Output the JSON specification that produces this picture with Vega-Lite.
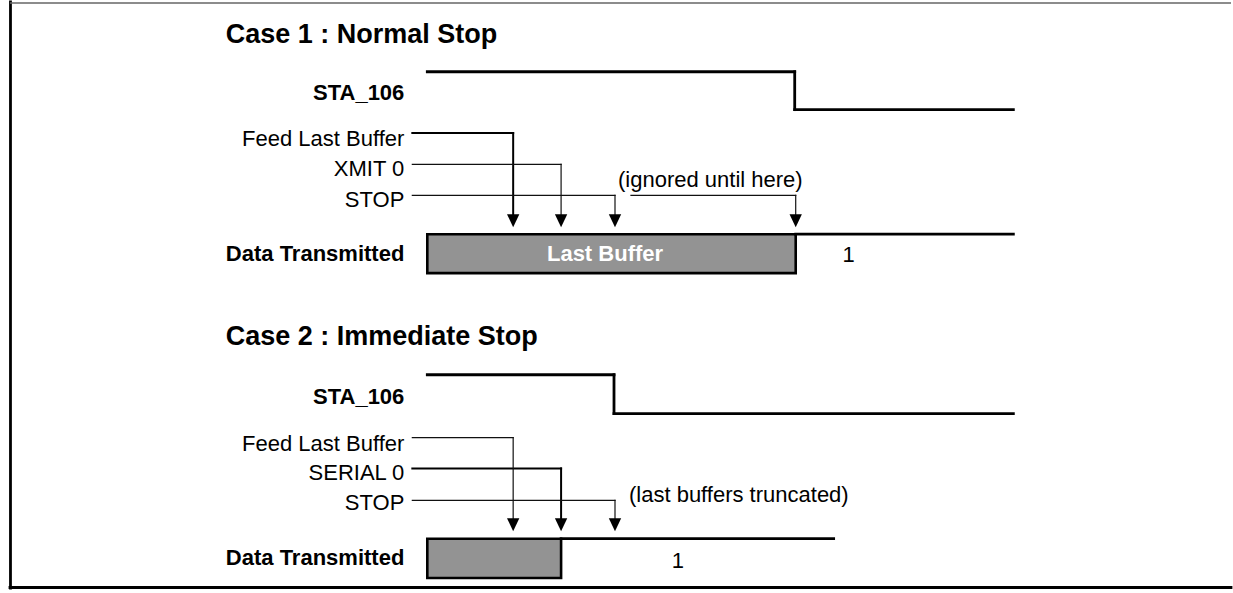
{
  "$schema": "https://vega.github.io/schema/vega-lite/v6.json",
  "width": 1233,
  "height": 593,
  "padding": 0,
  "autosize": {"type": "fit", "contains": "padding"},
  "background": "white",
  "config": {"view": {"stroke": null}, "text": {"font": "Liberation Sans"}},
  "datasets": {
    "segments": [
      {"kind": "frame", "x": 10.5, "y": 0, "x2": 10.5, "y2": 588},
      {"kind": "frame", "x": 10, "y": 587.5, "x2": 1233, "y2": 587.5},
      {"kind": "frametop", "x": 10, "y": 1, "x2": 1233, "y2": 1},

      {"kind": "signal", "x": 428, "y": 70, "x2": 796, "y2": 70},
      {"kind": "signal", "x": 796, "y": 70, "x2": 796, "y2": 108},
      {"kind": "signal", "x": 796, "y": 108, "x2": 1015, "y2": 108},
      {"kind": "signal", "x": 797, "y": 233, "x2": 1015, "y2": 233},

      {"kind": "heavy", "x": 413, "y": 131.5, "x2": 514, "y2": 131.5},
      {"kind": "heavy", "x": 514, "y": 131.5, "x2": 514, "y2": 214},
      {"kind": "light", "x": 413, "y": 163, "x2": 562, "y2": 163},
      {"kind": "light", "x": 562, "y": 163, "x2": 562, "y2": 214},
      {"kind": "light", "x": 413, "y": 194, "x2": 616, "y2": 194},
      {"kind": "light", "x": 616, "y": 194, "x2": 616, "y2": 214},
      {"kind": "light", "x": 632, "y": 194, "x2": 797, "y2": 194},
      {"kind": "light", "x": 797, "y": 194, "x2": 797, "y2": 214},

      {"kind": "signal", "x": 428, "y": 374, "x2": 615, "y2": 374},
      {"kind": "signal", "x": 615, "y": 374, "x2": 615, "y2": 413},
      {"kind": "signal", "x": 615, "y": 413, "x2": 1015, "y2": 413},
      {"kind": "signal", "x": 562, "y": 538.5, "x2": 835, "y2": 538.5},

      {"kind": "light", "x": 413, "y": 437, "x2": 514, "y2": 437},
      {"kind": "light", "x": 514, "y": 437, "x2": 514, "y2": 519},
      {"kind": "heavy", "x": 413, "y": 468, "x2": 562, "y2": 468},
      {"kind": "heavy", "x": 562, "y": 468, "x2": 562, "y2": 519},
      {"kind": "light", "x": 413, "y": 500, "x2": 616, "y2": 500},
      {"kind": "light", "x": 616, "y": 500, "x2": 616, "y2": 519}
    ],
    "boxes": [
      {"case": "Case 1", "x": 428, "x2": 797, "y": 233, "y2": 272},
      {"case": "Case 2", "x": 428, "x2": 562, "y": 538.5, "y2": 578}
    ],
    "arrows": [
      {"case": "Case 1", "x": 514, "y": 226},
      {"case": "Case 1", "x": 562, "y": 226},
      {"case": "Case 1", "x": 616, "y": 226},
      {"case": "Case 1", "x": 797, "y": 226},
      {"case": "Case 2", "x": 514, "y": 531},
      {"case": "Case 2", "x": 562, "y": 531},
      {"case": "Case 2", "x": 616, "y": 531}
    ],
    "texts": [
      {"role": "title", "label": "Case 1 : Normal Stop", "x": 226, "y": 33},
      {"role": "title", "label": "Case 2 : Immediate Stop", "x": 226, "y": 336},
      {"role": "signal", "label": "STA_106", "x": 405, "y": 91},
      {"role": "signal", "label": "Data Transmitted", "x": 405, "y": 253},
      {"role": "signal", "label": "STA_106", "x": 405, "y": 396},
      {"role": "signal", "label": "Data Transmitted", "x": 405, "y": 558},
      {"role": "cmd", "label": "Feed Last Buffer", "x": 405, "y": 137},
      {"role": "cmd", "label": "XMIT 0", "x": 405, "y": 168},
      {"role": "cmd", "label": "STOP", "x": 405, "y": 199},
      {"role": "cmd", "label": "Feed Last Buffer", "x": 405, "y": 443},
      {"role": "cmd", "label": "SERIAL 0", "x": 405, "y": 473},
      {"role": "cmd", "label": "STOP", "x": 405, "y": 503},
      {"role": "note", "label": "(ignored until here)", "x": 619, "y": 179},
      {"role": "note", "label": "(last buffers truncated)", "x": 630, "y": 495},
      {"role": "value", "label": "1", "x": 850, "y": 254},
      {"role": "value", "label": "1", "x": 679, "y": 561},
      {"role": "inside", "label": "Last Buffer", "x": 606, "y": 253}
    ]
  },
  "layer": [
    {
      "data": {"name": "boxes"},
      "mark": {"type": "rect", "fill": "#939393", "stroke": "black", "strokeWidth": 2.6},
      "encoding": {
        "x": {"field": "x", "type": "quantitative", "scale": {"domain": [0, 1233], "nice": false, "zero": false}, "axis": null},
        "x2": {"field": "x2"},
        "y": {"field": "y", "type": "quantitative", "scale": {"domain": [0, 593], "reverse": true, "nice": false, "zero": false}, "axis": null},
        "y2": {"field": "y2"}
      }
    },
    {
      "data": {"name": "segments"},
      "transform": [{"filter": "datum.kind === 'signal' || datum.kind === 'frame'"}],
      "mark": {"type": "rule", "color": "black", "strokeWidth": 2.8, "strokeCap": "square"},
      "encoding": {
        "x": {"field": "x", "type": "quantitative", "axis": null},
        "x2": {"field": "x2"},
        "y": {"field": "y", "type": "quantitative", "axis": null},
        "y2": {"field": "y2"}
      }
    },
    {
      "data": {"name": "segments"},
      "transform": [{"filter": "datum.kind === 'heavy'"}],
      "mark": {"type": "rule", "color": "black", "strokeWidth": 2, "strokeCap": "square"},
      "encoding": {
        "x": {"field": "x", "type": "quantitative", "axis": null},
        "x2": {"field": "x2"},
        "y": {"field": "y", "type": "quantitative", "axis": null},
        "y2": {"field": "y2"}
      }
    },
    {
      "data": {"name": "segments"},
      "transform": [{"filter": "datum.kind === 'light'"}],
      "mark": {"type": "rule", "color": "#111111", "strokeWidth": 1.2, "strokeCap": "square"},
      "encoding": {
        "x": {"field": "x", "type": "quantitative", "axis": null},
        "x2": {"field": "x2"},
        "y": {"field": "y", "type": "quantitative", "axis": null},
        "y2": {"field": "y2"}
      }
    },
    {
      "data": {"name": "segments"},
      "transform": [{"filter": "datum.kind === 'frametop'"}],
      "mark": {"type": "rule", "color": "#666666", "strokeWidth": 1.5},
      "encoding": {
        "x": {"field": "x", "type": "quantitative", "axis": null},
        "x2": {"field": "x2"},
        "y": {"field": "y", "type": "quantitative", "axis": null},
        "y2": {"field": "y2"}
      }
    },
    {
      "data": {"name": "arrows"},
      "mark": {"type": "point", "shape": "M-0.95,-2L0.95,-2L0,0Z", "size": 169, "filled": true, "color": "black", "opacity": 1, "strokeWidth": 0},
      "encoding": {
        "x": {"field": "x", "type": "quantitative", "axis": null},
        "y": {"field": "y", "type": "quantitative", "axis": null}
      }
    },
    {
      "data": {"name": "texts"},
      "transform": [{"filter": "datum.role === 'title'"}],
      "mark": {"type": "text", "align": "left", "baseline": "middle", "fontSize": 27, "fontWeight": "bold", "color": "black"},
      "encoding": {
        "x": {"field": "x", "type": "quantitative", "axis": null},
        "y": {"field": "y", "type": "quantitative", "axis": null},
        "text": {"field": "label"}
      }
    },
    {
      "data": {"name": "texts"},
      "transform": [{"filter": "datum.role === 'signal'"}],
      "mark": {"type": "text", "align": "right", "baseline": "middle", "fontSize": 22, "fontWeight": "bold", "color": "black"},
      "encoding": {
        "x": {"field": "x", "type": "quantitative", "axis": null},
        "y": {"field": "y", "type": "quantitative", "axis": null},
        "text": {"field": "label"}
      }
    },
    {
      "data": {"name": "texts"},
      "transform": [{"filter": "datum.role === 'cmd'"}],
      "mark": {"type": "text", "align": "right", "baseline": "middle", "fontSize": 22, "color": "black"},
      "encoding": {
        "x": {"field": "x", "type": "quantitative", "axis": null},
        "y": {"field": "y", "type": "quantitative", "axis": null},
        "text": {"field": "label"}
      }
    },
    {
      "data": {"name": "texts"},
      "transform": [{"filter": "datum.role === 'note'"}],
      "mark": {"type": "text", "align": "left", "baseline": "middle", "fontSize": 22, "color": "black"},
      "encoding": {
        "x": {"field": "x", "type": "quantitative", "axis": null},
        "y": {"field": "y", "type": "quantitative", "axis": null},
        "text": {"field": "label"}
      }
    },
    {
      "data": {"name": "texts"},
      "transform": [{"filter": "datum.role === 'value'"}],
      "mark": {"type": "text", "align": "center", "baseline": "middle", "fontSize": 22, "color": "black"},
      "encoding": {
        "x": {"field": "x", "type": "quantitative", "axis": null},
        "y": {"field": "y", "type": "quantitative", "axis": null},
        "text": {"field": "label"}
      }
    },
    {
      "data": {"name": "texts"},
      "transform": [{"filter": "datum.role === 'inside'"}],
      "mark": {"type": "text", "align": "center", "baseline": "middle", "fontSize": 22, "fontWeight": "bold", "color": "white"},
      "encoding": {
        "x": {"field": "x", "type": "quantitative", "axis": null},
        "y": {"field": "y", "type": "quantitative", "axis": null},
        "text": {"field": "label"}
      }
    }
  ]
}
